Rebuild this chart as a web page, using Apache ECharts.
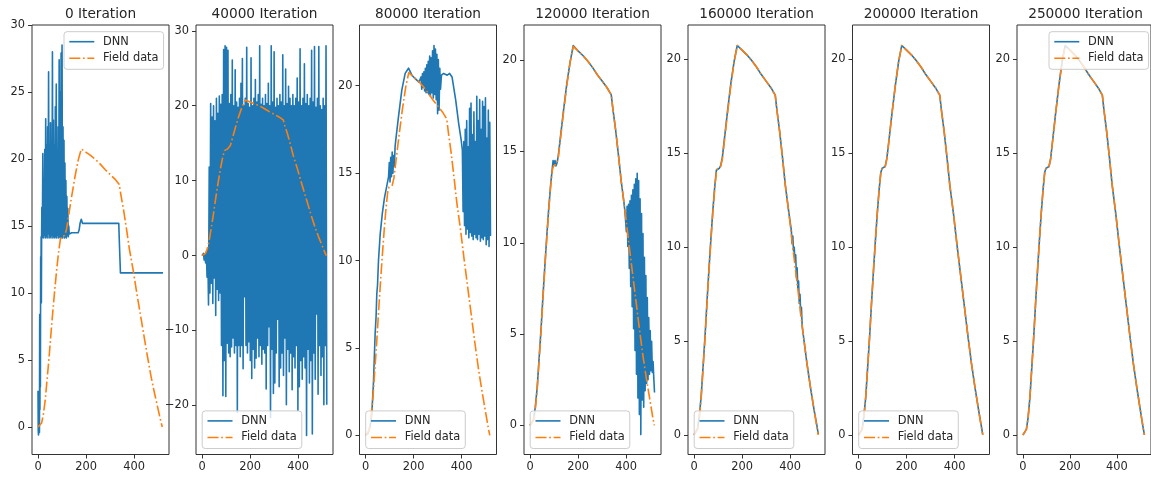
<!DOCTYPE html>
<html><head><meta charset="utf-8">
<script src="https://cdn.jsdelivr.net/npm/echarts@6/dist/echarts.min.js"></script>
<style>html,body{margin:0;padding:0;background:#fff}#c{width:1151px;height:482px}</style>
</head><body><div id="c"></div>
<script>
// ---------------- DATA ----------------
const titles = ['0 Iteration','40000 Iteration','80000 Iteration','120000 Iteration','160000 Iteration','200000 Iteration','250000 Iteration'];
const xTicks = [0, 200, 400];
const xRange = [-25, 545];
const yTicks = [
  [0,5,10,15,20,25,30],
  [-20,-10,0,10,20,30],
  [0,5,10,15,20],
  [0,5,10,15,20],
  [0,5,10,15,20],
  [0,5,10,15,20],
  [0,5,10,15,20]
];
const yRanges = [[-2.05,30],[-26.55,30.77],[-1.09,23.47],[-1.59,21.92],[-1.04,21.84],[-1.04,21.84],[-1.04,21.84]];

// Field data (same in every panel)
const fieldData = [[0,0],[8,0.05],[15,0.3],[22,0.9],[30,2.0],[38,3.6],[46,5.2],[54,7.0],[62,8.7],[70,10.3],[78,11.8],[86,13.1],[93,14.0],[98,14.2],[105,14.2],[111,14.3],[118,14.7],[125,15.5],[139,17.1],[153,18.6],[167,19.9],[180,20.75],[186,20.7],[200,20.5],[220,20.25],[240,19.95],[260,19.6],[280,19.2],[300,18.85],[320,18.5],[338,18.1],[345,17.3],[356,16.2],[368,14.8],[380,13.3],[395,11.8],[410,10.1],[425,8.5],[440,6.9],[455,5.3],[470,3.8],[485,2.5],[500,1.3],[510,0.5],[517,0]];

// DNN, 0 iteration
const dnn0Head = [[0,2.7],[1,-0.3],[2,-0.6],[4,-0.5],[5,0.8],[6,-0.4],[7,8.4],[8,1.3],[9,8.4],[10,3.0],[11,12.7],[12,9.2],[13,14.2],[14,9.3],[15,14.3]];
const dnn0Osc = {start:16, step:2,
  high:[16.4,20.4,18.5,20.7,23.0,21.0,22.4,26.5,20.9,22.7,19.5,28.0,22.9,21.0,23.9,25.6,20.5,22.4,27.4,25.0,27.9,28.5,22.4,21.4,19.7,18.4,17.2,16.3,15.0],
  low:[14.2,14.1,14.3,14.1,14.2,14.1,14.4,14.1,14.2,14.1,14.3,14.1,14.2,14.1,14.2,14.1,14.3,14.1,14.2,14.1,14.2,14.1,14.3,14.1,14.2,14.1,14.3,14.2]};
const dnn0Tail = [[130,14.4],[140,14.5],[167,14.5],[171,14.7],[175,15.2],[180,15.5],[185,15.2],[190,15.2],[336,15.2],[339,13.5],[343,11.5],[520,11.5]];

// DNN, 40000 iterations
const dnn40kHead = [[0,0],[3,-0.2],[6,0.3],[9,-0.6],[12,0.2],[15,-1.0],[18,0.5],[21,-2.9],[24,1.0],[27,-6.6],[30,11.8],[33,-5.0]];
const dnn40kOsc = {start:36, step:3,
  high:[20.3,18.5,20.0,18.0,21.0,19.0,21.3,20.2,21.5,27.5,28.0,27.8,27.4,20.3,21.5,26.1,20.0,24.8,20.5,19.8,21.0,23.0,26.3,20.0,21.0,27.8,20.3,19.8,26.4,20.0,21.0,23.5,20.5,21.5,28.0,20.2,21.0,20.0,21.5,20.3,23.0,20.0,28.0,20.5,27.2,19.8,21.0,20.0,21.5,20.5,26.8,20.0,24.9,20.3,22.6,21.0,20.0,21.5,20.0,21.0,23.7,20.5,27.6,20.0,21.0,25.6,20.3,21.5,20.0,21.0,27.4,20.5,27.9,19.8,21.0,27.9,20.0,19.5,21.0,20.0,28.0],
  low:[-3.7,-6.4,-3.0,-8.0,-4.5,-6.0,-5.0,-12.0,-18.7,-14.0,-18.8,-11.7,-13.0,-13.5,-12.2,-11.0,-13.0,-12.0,-20.9,-12.0,-13.5,-12.0,-15.1,-5.5,-12.0,-13.0,-11.5,-14.0,-16.4,-12.5,-15.0,-13.7,-11.0,-13.5,-12.0,-14.5,-12.5,-13.0,-17.8,-12.0,-9.5,-21.6,-12.5,-18.4,-17.0,-13.0,-8.5,-17.5,-15.0,-13.0,-16.0,-11.0,-19.9,-12.5,-15.5,-13.0,-17.9,-13.5,-15.0,-12.0,-20.7,-17.5,-14.0,-16.5,-13.5,-15.0,-24.0,-12.5,-17.0,-14.0,-23.8,-13.0,-16.5,-7.8,-18.5,-12.0,-16.0,-13.5,-19.9,-12.0,-19.9]};

// DNN, 80000 iterations
const dnn80kHead = [[0,0],[10,0.1],[19,0.5],[26,1.2],[33,3.0],[40,5.8],[44,6.8],[47,8.1],[50,8.6],[54,10.0],[61,11.5],[70,12.7],[79,13.6],[89,14.3],[96,14.8],[99,15.6],[102,14.5],[105,15.9],[108,14.8],[111,16.2],[114,15.0],[117,16.0],[120,15.4],[123,16.5],[126,16.9],[137,18.2],[151,19.75],[165,20.7],[179,21.0],[186,20.8],[193,20.6],[207,20.4],[222,20.2],[228,20.1]];
const dnn80kOscA = {start:231, step:3,
  high:[20.5,20.7,20.8,21.0,21.2,21.4,21.7,21.6,22.0,22.3,22.1,21.8,21.5,21.0],
  low:[19.8,19.9,19.7,19.6,19.6,19.5,19.4,19.6,19.3,19.5,19.2,18.4,18.6,19.8]};
const dnn80kMid = [[316,20.6],[325,20.7],[340,20.6],[350,20.7],[360,20.5],[375,19.2],[388,17.8],[398,16.9]];
const dnn80kOscB = {start:403, step:3,
  high:[16.3,16.8,17.5,18.0,16.5,18.7,19.0,17.2,18.5,16.8,19.4,18.0,19.2,17.5,19.1,18.8,19.3,17.0,18.6,17.9],
  low:[12.8,12.0,11.5,11.8,11.3,11.6,11.4,11.2,11.5,11.3,11.2,11.5,11.1,11.3,11.2,11.4,10.9,11.2,10.8,11.4]};

// DNN, 120000 iterations
const dnn120kHead = [[0,0],[8,0.05],[15,0.35],[22,1.0],[30,2.1],[38,3.7],[46,5.3],[54,7.1],[62,8.8],[70,10.4],[78,11.9],[86,13.2],[93,14.1],[96,14.5],[100,14.3],[104,14.5],[108,14.2],[113,14.4],[118,14.8],[125,15.6],[139,17.2],[153,18.7],[167,19.9],[180,20.8],[186,20.7],[200,20.5],[220,20.25],[240,19.95],[260,19.6],[280,19.2],[300,18.85],[320,18.5],[338,18.1],[345,17.3],[356,16.2],[368,14.8],[380,13.3],[390,12.3],[395,11.7]];
const dnn120kOsc = {start:398, step:3,
  high:[11.6,12.0,12.1,12.3,12.6,12.9,13.2,13.5,13.8,13.4,12.4,11.6,10.5,9.2,8.2,7.0,5.9,5.2,4.6,3.5],
  low:[10.6,9.8,8.6,7.6,6.5,5.3,4.1,2.8,1.5,0.6,-0.5,1.4,1.0,1.9,2.3,2.5,2.8,3.0,2.9,2.6]};
const dnn120kTail = [[518,1.8]];

// DNN, 160000 iterations
const dnn160k = [[0,0],[8,0.05],[15,0.35],[22,1.0],[30,2.1],[38,3.7],[46,5.3],[54,7.1],[62,8.8],[70,10.4],[78,11.9],[86,13.2],[93,14.1],[98,14.2],[105,14.2],[111,14.35],[118,14.8],[125,15.6],[139,17.2],[153,18.7],[167,19.9],[180,20.75],[186,20.7],[200,20.5],[220,20.25],[240,19.95],[260,19.6],[280,19.2],[300,18.85],[320,18.5],[338,18.1],[345,17.3],[356,16.2],[368,14.8],[380,13.3],[395,11.8],[405,10.9],[408,10.2],[411,10.6],[414,9.8],[417,10.0],[420,9.2],[423,9.6],[426,8.4],[429,8.9],[432,7.8],[435,8.2],[438,7.0],[441,7.5],[444,6.4],[447,6.8],[450,5.8],[455,5.3],[470,3.8],[485,2.5],[500,1.3],[510,0.6],[517,0.05]];

// DNN, 200000 iterations
const dnn200k = [[0,0],[8,0.05],[15,0.3],[22,0.95],[30,2.0],[38,3.6],[46,5.2],[54,7.0],[62,8.7],[70,10.3],[78,11.8],[86,13.1],[93,14.0],[98,14.2],[105,14.2],[111,14.3],[118,14.75],[125,15.5],[139,17.1],[153,18.6],[167,19.9],[180,20.75],[186,20.7],[200,20.5],[220,20.25],[240,19.95],[260,19.6],[280,19.2],[300,18.85],[320,18.5],[338,18.1],[345,17.3],[356,16.2],[368,14.8],[380,13.3],[395,11.8],[410,10.1],[425,8.5],[440,6.9],[455,5.3],[470,3.8],[485,2.5],[500,1.3],[510,0.55],[517,0.02]];

// DNN, 250000 iterations
const dnn250k = [[0,0],[8,0.05],[15,0.3],[22,0.9],[30,2.0],[38,3.6],[46,5.2],[54,7.0],[62,8.7],[70,10.3],[78,11.8],[86,13.1],[93,14.0],[98,14.2],[105,14.2],[111,14.3],[118,14.7],[125,15.5],[139,17.1],[153,18.6],[167,19.9],[180,20.75],[186,20.7],[200,20.5],[220,20.25],[240,19.95],[260,19.6],[280,19.2],[300,18.85],[320,18.5],[338,18.1],[345,17.3],[356,16.2],[368,14.8],[380,13.3],[395,11.8],[410,10.1],[425,8.5],[440,6.9],[455,5.3],[470,3.8],[485,2.5],[500,1.3],[510,0.5],[517,0.01]];

// ---------------- BUILD ----------------
function osc(o){
  const out = [];
  for (let i = 0; i < o.high.length; i++){
    out.push([o.start + 2*i*o.step, o.high[i]]);
    if (i < o.low.length) out.push([o.start + (2*i+1)*o.step, o.low[i]]);
  }
  return out;
}
const dnnSeries = [
  dnn0Head.concat(osc(dnn0Osc), dnn0Tail),
  dnn40kHead.concat(osc(dnn40kOsc)),
  dnn80kHead.concat(osc(dnn80kOscA), dnn80kMid, osc(dnn80kOscB)),
  dnn120kHead.concat(osc(dnn120kOsc), dnn120kTail),
  dnn160k,
  dnn200k,
  dnn250k
];

const font = 'DejaVu Sans';
const txt = '#262626';
const spine = '#333333';
const lefts = [32, 196, 359.5, 524, 688, 852.5, 1017];
const W = 137, TOP = 25, BOT = 454.5;
const legendUpperRight = [true,false,false,false,false,false,true];
const minusFmt = v => String(v).replace('-', '\u2212');

const option = {
  animation: false,
  backgroundColor: '#ffffff',
  grid: lefts.map(l => ({left:l, top:TOP, width:W, height:BOT-TOP, show:true, borderColor:spine, borderWidth:1, backgroundColor:'transparent', containLabel:false})),
  xAxis: lefts.map((l,i) => ({
    type:'value', gridIndex:i, min:xRange[0], max:xRange[1],
    axisLine:{show:false, onZero:false},
    splitLine:{show:false},
    axisTick:{show:true, inside:false, length:4, customValues:xTicks, lineStyle:{color:spine, width:1}},
    axisLabel:{show:true, customValues:xTicks, margin:7, fontSize:11.4, fontFamily:font, color:txt, formatter:minusFmt}
  })),
  yAxis: lefts.map((l,i) => ({
    type:'value', gridIndex:i, min:yRanges[i][0], max:yRanges[i][1],
    axisLine:{show:false, onZero:false},
    splitLine:{show:false},
    axisTick:{show:true, inside:false, length:4, customValues:yTicks[i], lineStyle:{color:spine, width:1}},
    axisLabel:{show:true, customValues:yTicks[i], margin:7, fontSize:11.4, fontFamily:font, color:txt, formatter:minusFmt}
  })),
  legend: lefts.map((l,i) => {
    const lg = {
      data:['DNN','Field data'], orient:'vertical', selectedMode:false,
      itemWidth:25, itemHeight:12, itemGap:4.6, padding:[4,5,5,4.5],
      backgroundColor:'rgba(255,255,255,0.8)', borderColor:'#cccccc', borderWidth:1, borderRadius:3,
      lineStyle:{width:1.6},
      itemStyle:{color:'rgba(0,0,0,0)', borderColor:'rgba(0,0,0,0)', borderWidth:0},
      textStyle:{fontSize:11.4, fontFamily:font, color:txt, lineHeight:12, padding:[0,0,0,3.7]}
    };
    if (legendUpperRight[i]) { lg.left = l + W - 6 - 99; lg.top = TOP + 6.7; }
    else { lg.left = l + 6.2; lg.top = BOT - 6 - 37.6; }
    return lg;
  }),
  graphic: lefts.map((l,i) => ({
    type:'text', x: l + W/2, y: 14.3,
    style:{text:titles[i], fontSize:13.7, fontFamily:font, fill:txt, align:'center', verticalAlign:'middle'}
  })),
  series: []
};
lefts.forEach((l,i) => {
  option.series.push({
    type:'line', name:'DNN', xAxisIndex:i, yAxisIndex:i, data:dnnSeries[i],
    showSymbol:false, symbol:'none', silent:true, z:2,
    lineStyle:{color:'#1f77b4', width:1.6, join:'round'}, itemStyle:{color:'#1f77b4'}
  });
  option.series.push({
    type:'line', name:'Field data', xAxisIndex:i, yAxisIndex:i, data:fieldData,
    showSymbol:false, symbol:'none', silent:true, z:3,
    lineStyle:{color:'#ff7f0e', width:1.6, type:[11,2.7,1.7,2.7], join:'round'}, itemStyle:{color:'#ff7f0e'}
  });
});

const chart = echarts.init(document.getElementById('c'), null, {renderer:'canvas'});
chart.setOption(option);
</script>
</body></html>
